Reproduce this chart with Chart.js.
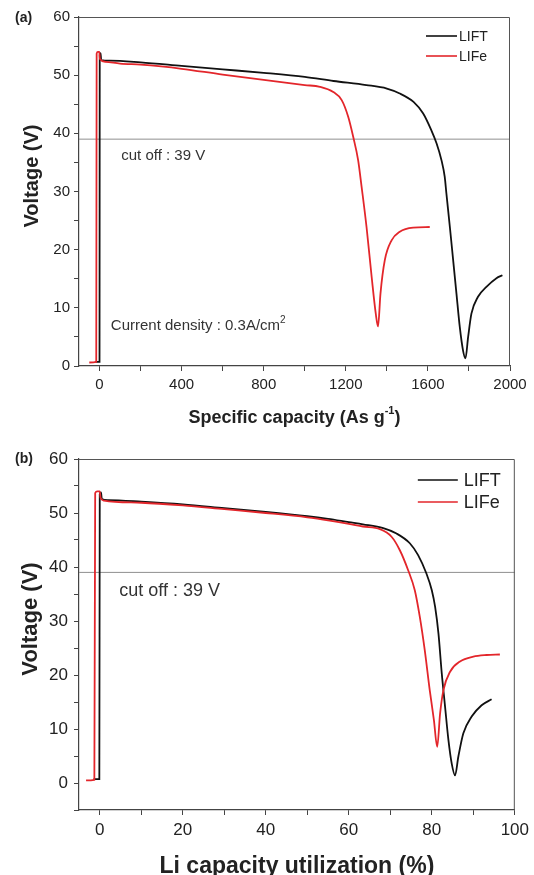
<!DOCTYPE html>
<html>
<head>
<meta charset="utf-8">
<script src="https://cdn.jsdelivr.net/npm/chart.js@4.4.0/dist/chart.umd.min.js"></script>
<style>
  html, body { margin: 0; padding: 0; background: #fff; }
  canvas { display: block; }
</style>
</head>
<body>
<canvas id="chartA" width="534" height="440"></canvas>
<canvas id="chartB" width="534" height="435"></canvas>
<script>
// (a) voltage vs specific capacity (As g-1)
const capA_LIFT = [-20, 0, 1, 5, 8, 50, 200, 400, 600, 800, 1000, 1140, 1300, 1400, 1460, 1530, 1577, 1617, 1642, 1666, 1682, 1690, 1707, 1723, 1739, 1755, 1771, 1783, 1796, 1812, 1844, 1885, 1934, 1963];
const voltA_LIFT = [0.7, 0.7, 53.5, 53.8, 52.6, 52.5, 52.2, 51.6, 51.0, 50.4, 49.7, 49.0, 48.3, 47.7, 46.9, 45.4, 43.4, 40.5, 38.3, 35.4, 32.5, 29.7, 23.9, 18.2, 12.5, 6.8, 2.7, 1.3, 5.0, 9.0, 11.9, 13.6, 15.1, 15.6];
const capA_LIFe = [-50, -16, -14, -8, -1, 2, 30, 100, 200, 300, 400, 600, 800, 1000, 1074, 1139, 1180, 1212, 1236, 1260, 1277, 1301, 1326, 1346, 1357, 1369, 1390, 1423, 1463, 1528, 1609];
const voltA_LIFe = [0.6, 0.7, 53.7, 54.0, 54.0, 52.8, 52.3, 52.0, 51.8, 51.5, 51.1, 50.1, 49.2, 48.3, 48.0, 47.1, 45.7, 42.8, 39.4, 35.4, 30.8, 23.9, 15.3, 9.0, 6.8, 12.5, 18.2, 21.6, 23.1, 23.8, 23.9];

// (b) voltage vs Li capacity utilization (%)
const utilB_LIFT = [-1.5, -0.1, 0, 0.3, 0.5, 2, 10, 20, 30, 40, 50, 55, 60, 63.4, 68.3, 71.5, 74.7, 76.7, 78.7, 80.0, 80.8, 81.6, 82.4, 83.2, 84.0, 84.8, 85.6, 86.4, 87.6, 89.6, 92.0, 94.4];
const voltB_LIFT = [0.7, 0.7, 53.5, 53.8, 52.6, 52.4, 52.1, 51.6, 50.9, 50.2, 49.4, 48.9, 48.3, 47.9, 47.2, 46.2, 44.4, 42.2, 38.8, 35.7, 32.6, 27.7, 20.3, 14.1, 8.0, 3.6, 1.4, 4.9, 9.2, 12.3, 14.4, 15.5];
const utilB_LIFe = [-3.3, -1.3, -1.1, -0.6, 0, 0.2, 1, 10, 20, 30, 40, 50, 55.4, 60, 63.4, 67.5, 70.3, 72.3, 74.3, 75.9, 77.1, 78.3, 79.5, 80.5, 81.3, 82.0, 82.8, 84.4, 86.8, 90.0, 93.2, 96.4];
const voltB_LIFe = [0.5, 0.6, 53.7, 54.0, 54.0, 52.8, 52.3, 51.9, 51.4, 50.7, 50.0, 49.2, 48.6, 48.0, 47.5, 47.0, 45.6, 43.1, 39.4, 35.7, 30.8, 24.6, 17.2, 11.7, 6.7, 12.9, 17.2, 20.6, 22.5, 23.4, 23.7, 23.8];

const cutOff = 39;
const seriesNames = ['LIFT', 'LIFe'];
const seriesColors = ['#111111', '#e3262b'];

const FONT = '"Liberation Sans", Arial, sans-serif';

function toPoints(xs, ys) {
  return xs.map((x, i) => ({ x: x, y: ys[i] }));
}

// draws text pieces side by side, pieces may be raised (superscripts)
function drawRich(ctx, parts, x, y, align) {
  let total = 0;
  parts.forEach(p => { ctx.font = p.font; total += ctx.measureText(p.t).width; });
  let cx = align === 'center' ? x - total / 2 : x;
  ctx.textAlign = 'left';
  ctx.textBaseline = 'middle';
  parts.forEach(p => {
    ctx.font = p.font;
    ctx.fillText(p.t, cx, y + (p.dy || 0));
    cx += ctx.measureText(p.t).width;
  });
}

const decor = {
  id: 'decor',
  afterDraw(chart, args, o) {
    const ctx = chart.ctx;
    const a = chart.chartArea;
    const xs = chart.scales.x, ys = chart.scales.y;
    ctx.save();

    // top and right frame
    ctx.strokeStyle = '#555';
    ctx.lineWidth = 1;
    ctx.beginPath();
    ctx.moveTo(a.left, a.top + 0.5);
    ctx.lineTo(a.right - 0.5, a.top + 0.5);
    ctx.lineTo(a.right - 0.5, a.bottom);
    ctx.stroke();

    ctx.fillStyle = '#222';

    // panel label
    ctx.font = 'bold 14px ' + FONT;
    ctx.textAlign = 'left';
    ctx.textBaseline = 'middle';
    ctx.fillText(o.panel, 15, o.panelY);

    // x title
    drawRich(ctx, o.xTitle, (a.left + a.right) / 2, a.bottom + o.xTitleDy, 'center');

    // y title
    ctx.save();
    ctx.translate(o.yTitleX, (a.top + a.bottom) / 2 - 15.5);
    ctx.rotate(-Math.PI / 2);
    ctx.font = 'bold ' + o.yTitleSize + 'px ' + FONT;
    ctx.textAlign = 'center';
    ctx.textBaseline = 'middle';
    ctx.fillText('Voltage (V)', 0, 0);
    ctx.restore();

    // notes inside plot
    ctx.fillStyle = '#333';
    o.notes.forEach(n => {
      drawRich(ctx, n.parts, xs.getPixelForValue(n.x), ys.getPixelForValue(n.y), 'left');
    });

    // legend
    const L = o.legend;
    seriesNames.forEach((name, i) => {
      const y = a.top + L.y0 + i * L.gap;
      ctx.strokeStyle = seriesColors[i];
      ctx.lineWidth = 1.6;
      ctx.beginPath();
      ctx.moveTo(a.right - L.line0, y);
      ctx.lineTo(a.right - L.line1, y);
      ctx.stroke();
      ctx.fillStyle = '#222';
      ctx.font = L.size + 'px ' + FONT;
      ctx.textAlign = 'left';
      ctx.textBaseline = 'middle';
      ctx.fillText(name, a.right - L.text, y + 1);
    });

    ctx.restore();
  }
};

function makeChart(id, cfg) {
  const curve = { showLine: true, pointRadius: 0, borderWidth: 1.8, fill: false, cubicInterpolationMode: 'monotone' };
  const datasets = [
    Object.assign({ data: cfg.lift, borderColor: seriesColors[0], order: 2 }, curve),
    Object.assign({ data: cfg.life, borderColor: seriesColors[1], order: 1 }, curve),
    { data: cfg.cut, borderColor: '#8f8f8f', borderWidth: 1, order: 3, showLine: true, pointRadius: 0, tension: 0 }
  ];

  return new Chart(document.getElementById(id), {
    type: 'scatter',
    data: { datasets: datasets },
    options: {
      responsive: false,
      animation: false,
      events: [],
      layout: { padding: { top: cfg.padTop, right: cfg.padRight, left: 0, bottom: 0 } },
      plugins: { legend: { display: false }, tooltip: { enabled: false }, decor: cfg.decor },
      scales: {
        x: {
          type: 'linear', min: cfg.xMin, max: cfg.xMax,
          afterFit: s => { s.height = cfg.xAxisH; },
          border: { color: '#444', width: 1.2 },
          grid: { drawOnChartArea: false, drawTicks: true, tickLength: 5, color: '#444' },
          ticks: {
            stepSize: cfg.xStep, includeBounds: false, autoSkip: false, maxRotation: 0, padding: cfg.xPad,
            color: '#222', font: { family: FONT, size: cfg.tickSize },
            callback: v => (Math.abs(v % cfg.xLabelStep) < 1e-6 ? String(v) : '')
          }
        },
        y: {
          type: 'linear', min: cfg.yMin, max: 60,
          afterFit: s => { s.width = 79; },
          border: { color: '#444', width: 1.2 },
          grid: { drawOnChartArea: false, drawTicks: true, tickLength: 5, color: '#444' },
          ticks: {
            stepSize: 5, autoSkip: false, padding: cfg.yPad,
            color: '#222', font: { family: FONT, size: cfg.tickSize },
            callback: v => (Math.abs(v % 10) < 1e-6 ? String(v) : '')
          }
        }
      }
    },
    plugins: [decor]
  });
}

makeChart('chartA', {
  lift: toPoints(capA_LIFT, voltA_LIFT),
  life: toPoints(capA_LIFe, voltA_LIFe),
  cut: [{ x: -100, y: cutOff }, { x: 2000, y: cutOff }],
  xMin: -100, xMax: 2000, xStep: 200, xLabelStep: 400, yMin: 0,
  padTop: 17, padRight: 24, xAxisH: 74, tickSize: 15, xPad: 5, yPad: 4,
  decor: {
    panel: '(a)', panelY: 18,
    xTitle: [
      { t: 'Specific capacity (As g', font: 'bold 18px ' + FONT },
      { t: '-1', font: 'bold 11px ' + FONT, dy: -7 },
      { t: ')', font: 'bold 18px ' + FONT }
    ],
    xTitleDy: 52,
    yTitleX: 32, yTitleSize: 20,
    notes: [
      { x: 106, y: 36.1, parts: [{ t: 'cut off : 39 V', font: '15px ' + FONT }] },
      { x: 55, y: 6.9, parts: [
        { t: 'Current density : 0.3A/cm', font: '15px ' + FONT },
        { t: '2', font: '10px ' + FONT, dy: -6 }
      ] }
    ],
    legend: { y0: 19, gap: 20, line0: 84, line1: 53, text: 51, size: 14 }
  }
});

makeChart('chartB', {
  lift: toPoints(utilB_LIFT, voltB_LIFT),
  life: toPoints(utilB_LIFe, voltB_LIFe),
  cut: [{ x: -5, y: cutOff }, { x: 100, y: cutOff }],
  xMin: -5, xMax: 100, xStep: 10, xLabelStep: 20, yMin: -5,
  padTop: 19, padRight: 19, xAxisH: 65, tickSize: 17, xPad: 5, yPad: 6,
  decor: {
    panel: '(b)', panelY: 19.5,
    xTitle: [{ t: 'Li capacity utilization (%)', font: 'bold 23px ' + FONT }],
    xTitleDy: 57,
    yTitleX: 31, yTitleSize: 22,
    notes: [
      { x: 4.7, y: 35.6, parts: [{ t: 'cut off : 39 V', font: '18px ' + FONT }] }
    ],
    legend: { y0: 21, gap: 22, line0: 97, line1: 57, text: 51, size: 18 }
  }
});
</script>
</body>
</html>
